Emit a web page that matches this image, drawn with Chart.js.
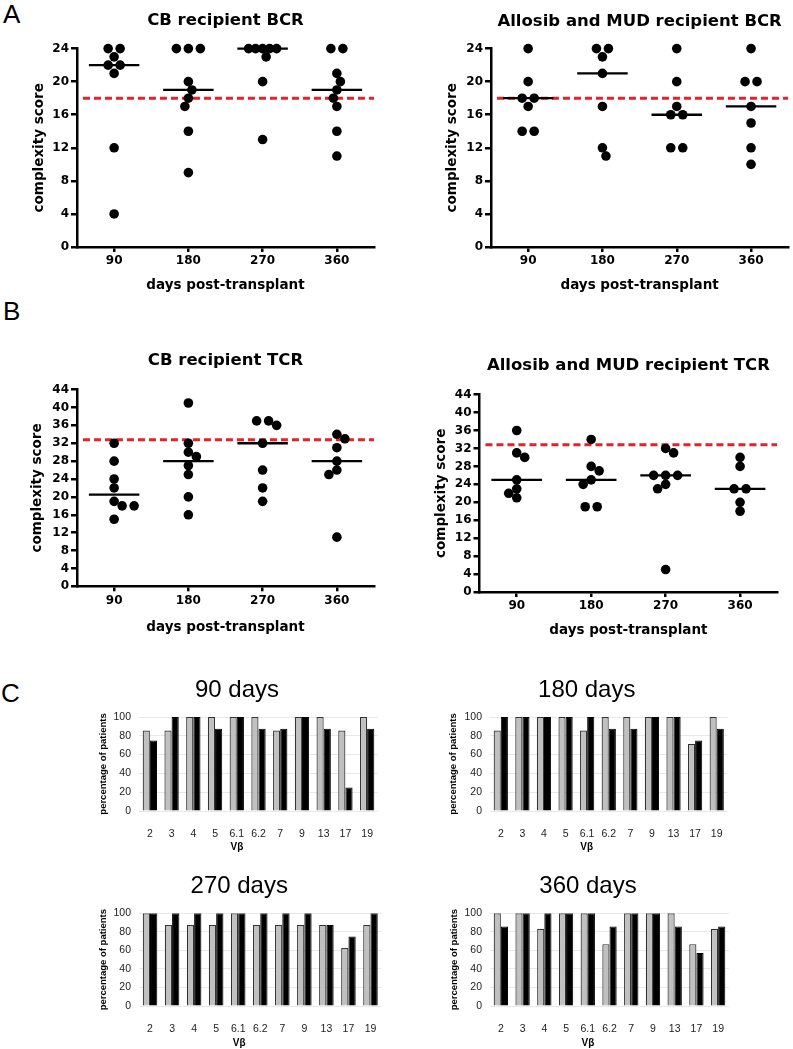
<!DOCTYPE html>
<html><head><meta charset="utf-8">
<script src="https://cdn.jsdelivr.net/npm/chart.js@4/dist/chart.umd.min.js"></script>
<style>
body{margin:0;width:793px;height:1049px;position:relative;background:#fff;overflow:hidden}
canvas{position:absolute}
.lbl{position:absolute;font-family:'Liberation Sans',Arial,sans-serif;font-size:26px;line-height:26px;color:#000}
</style></head><body>
<div class="lbl" style="left:3px;top:1px">A</div>
<div class="lbl" style="left:3px;top:298px">B</div>
<div class="lbl" style="left:1px;top:680px">C</div>
<canvas id="a1" width="400" height="300" style="left:0;top:0"></canvas>
<canvas id="a2" width="393" height="300" style="left:400px;top:0"></canvas>
<canvas id="b1" width="400" height="300" style="left:0;top:340px"></canvas>
<canvas id="b2" width="393" height="300" style="left:400px;top:345px"></canvas>
<canvas id="c1" width="308" height="193" style="left:96px;top:660px"></canvas>
<canvas id="c2" width="304" height="193" style="left:446px;top:660px"></canvas>
<canvas id="c3" width="312" height="193" style="left:97px;top:856px"></canvas>
<canvas id="c4" width="302" height="193" style="left:447px;top:856px"></canvas>
<script>
// ---------- data ----------
const days = ['90', '180', '270', '360'];
const cbBcr    = [[24,24,23,22,22,21,12,4],[24,24,24,20,19,18,17,14,9],[24,24,24,24,24,23,20,13],[24,24,21,20,19,18,17,14,11]];
const alloBcr  = [[24,20,18,18,17,14,14],[24,24,23,21,17,12,11],[24,20,17,16,16,12,12],[24,20,20,17,15,12,10]];
const cbTcr    = [[32,28,24,22,19,18,18,15],[41,32,30,29,27,25,20,16],[37,37,36,32,26,22,19],[34,33,31,28,26,25,11]];
const alloTcr  = [[36,31,30,25,23,22,21],[34,28,27,25,24,19,19],[32,31,26,26,26,24,23,5],[30,28,23,23,20,18]];
const bcrThreshold = 18;
const tcrThreshold = 32.8;
const bcrTicksMax = 24;
const tcrTicksMax = 44;

const vbeta = ['2','3','4','5','6.1','6.2','7','9','13','17','19'];
const gray90  = [85.7,85.7,100,100,100,100,85.7,100,100,85.7,100];
const black90 = [75,100,100,87.5,100,87.5,87.5,100,87.5,25,87.5];
const gray180  = [85.7,100,100,100,85.7,100,100,100,100,71.4,100];
const black180 = [100,100,100,100,100,87.5,87.5,100,100,75,87.5];
const gray270  = [100,87.5,87.5,87.5,100,87.5,87.5,87.5,87.5,62.5,87.5];
const black270 = [100,100,100,100,100,100,100,100,87.5,75,100];
const gray360  = [100,100,83.3,100,100,66.7,100,100,100,66.7,83.3];
const black360 = [85.7,100,100,100,100,85.7,100,100,85.7,57.1,85.7];

// ---------- helpers ----------
const BOLD = "'DejaVu Sans', sans-serif";
const ARIAL = "'Liberation Sans', Arial, sans-serif";
const DOT_R = 4.8;
const MED_HALF = 0.34;

function median(a){const s=[...a].sort((x,y)=>x-y);const n=s.length;return n%2?s[(n-1)/2]:(s[n/2-1]+s[n/2])/2;}

// beeswarm-style spreading of tied / nearby points (computed from the scale's pixels)
function swarm(chart, groups){
  const xs = chart.scales.x, ys = chart.scales.y;
  const unit = xs.getPixelForValue(1) - xs.getPixelForValue(0);
  const D = 8.8, h = 0.5;
  const out = [];
  groups.forEach((vals, i) => {
    const placed = [];
    let sign = 1;
    const uniq = [...new Set(vals)].sort((a,b)=>b-a);
    uniq.forEach(v => {
      const n = vals.filter(w=>w===v).length;
      const S = n >= 4 ? 7 : 12;
      const base = Array.from({length:n}, (_,k)=>(k-(n-1)/2)*S);
      const py = ys.getPixelForValue(v);
      for (let j = 0; j < 400; j++) {
        const sh = j === 0 ? 0 : (j%2 ? sign : -sign) * Math.ceil(j/2) * h;
        const ok = base.every(b => placed.every(p => Math.hypot(p.x-(b+sh), p.y-py) >= D));
        if (ok) {
          base.forEach(b => { placed.push({x:b+sh, y:py}); out.push({x:i+0.5+(b+sh)/unit, y:v}); });
          if (sh !== 0) sign = -Math.sign(sh);
          break;
        }
      }
    });
  });
  chart.data.datasets[0].data = out;
  chart.update('none');
}

function makeScatter(id, title, groups, thr, yMax, L){
  const pts = [];
  groups.forEach((vals,i)=>vals.forEach(v=>pts.push({x:i+0.5,y:v})));
  const datasets = [{
    type:'scatter', data:pts, backgroundColor:'#000', borderColor:'#000', borderWidth:0,
    pointRadius:DOT_R, pointHoverRadius:DOT_R, order:0, clip:false
  }];
  groups.forEach((vals,i)=>{
    const m = median(vals);
    datasets.push({type:'line', data:[{x:i+0.5-MED_HALF,y:m},{x:i+0.5+MED_HALF,y:m}],
      borderColor:'#000', borderWidth:2.3, pointRadius:0, showLine:true, fill:false, order:1, clip:false});
  });
  datasets.push({type:'line', data:[{x:0.08,y:thr},{x:4,y:thr}], borderColor:'#e3222b', borderWidth:3,
    borderDash:[7,4], pointRadius:0, showLine:true, fill:false, order:2});
  const chart = new Chart(document.getElementById(id), {
    type:'scatter',
    data:{datasets},
    options:{
      responsive:false, animation:false, devicePixelRatio:1,
      layout:{padding:{left:0,right:L.padR,top:0,bottom:0}},
      plugins:{legend:{display:false}, tooltip:{enabled:false},
        title:{display:true, text:title, fullSize:false, color:'#000',
          font:{family:BOLD, size:16.5, weight:'bold'}, padding:{top:L.tTop, bottom:L.tBot}}},
      scales:{
        x:{type:'linear', min:0, max:4,
          afterBuildTicks: ax => { ax.ticks = days.map((d,i)=>({value:i+0.5})); },
          ticks:{callback:(v,idx)=>days[idx], color:'#000', font:{family:BOLD,size:12,weight:'bold'}, padding:2, autoSkip:false, maxRotation:0},
          grid:{display:true, drawOnChartArea:false, drawTicks:true, tickLength:5, color:'#000', lineWidth:2.5},
          border:{display:true, color:'#000', width:2.5},
          title:{display:true, text:'days post-transplant', color:'#000', font:{family:BOLD,size:13.5,weight:'bold'}, padding:{top:0,bottom:L.xtBot}},
          afterFit: s => { s.height = L.xH; }
        },
        y:{min:0, max:yMax,
          ticks:{stepSize:4, color:'#000', font:{family:BOLD,size:12,weight:'bold'}, padding:2},
          grid:{display:true, drawOnChartArea:false, drawTicks:true, tickLength:6, color:'#000', lineWidth:2.5},
          border:{display:true, color:'#000', width:2.5},
          title:{display:true, text:'complexity score', color:'#000', font:{family:BOLD,size:13.5,weight:'bold'}, padding:{top:L.ytTop,bottom:0}},
          afterFit: s => { s.width = L.yW; }
        }
      }
    }
  });
  swarm(chart, groups);
  return chart;
}

function makeBars(id, title, gray, black, L){
  return new Chart(document.getElementById(id), {
    type:'bar',
    data:{labels:vbeta, datasets:[
      {data:gray, backgroundColor:'#c0c0c0', borderColor:'#333', borderWidth:1.2, borderSkipped:'bottom'},
      {data:black, backgroundColor:'#000', borderColor:'#000', borderWidth:1, borderSkipped:'bottom'}
    ]},
    options:{
      responsive:false, animation:false, devicePixelRatio:1,
      categoryPercentage:0.66, barPercentage:1,
      layout:{padding:{left:0,right:L.padR,top:0,bottom:0}},
      plugins:{legend:{display:false}, tooltip:{enabled:false},
        title:{display:true, text:title, color:'#000', font:{family:ARIAL,size:24,weight:'normal'}, padding:{top:L.tTop,bottom:L.tBot}},
        subtitle:{display:true, text:'Vβ', position:'bottom', color:'#000', font:{family:ARIAL,size:10,weight:'bold'}, padding:{top:0,bottom:0}}
      },
      scales:{
        x:{grid:{display:false}, border:{display:false},
          ticks:{color:'#222', font:{family:ARIAL,size:10.5}, padding:9, autoSkip:false, maxRotation:0},
          afterFit: s => { s.height = L.xH; }},
        y:{min:0, max:100,
          ticks:{stepSize:20, color:'#222', font:{family:ARIAL,size:10.5}, padding:8},
          grid:{color:'#e8e8e8', lineWidth:1, drawTicks:false},
          border:{display:false},
          title:{display:true, text:'percentage of patients', color:'#000', font:{family:ARIAL,size:9.5,weight:'bold'}, padding:{top:L.ytTop,bottom:0}},
          afterFit: s => { s.width = L.yW; }}
      }
    }
  });
}

makeScatter('a1','CB recipient BCR', cbBcr, bcrThreshold, bcrTicksMax,
  {padR:26, tTop:10.4, tBot:18.4, xH:53, xtBot:6.9, yW:77, ytTop:30.9});
makeScatter('a2','Allosib and MUD recipient BCR', alloBcr, bcrThreshold, bcrTicksMax,
  {padR:4, tTop:11.4, tBot:17.4, xH:53, xtBot:6.9, yW:91, ytTop:43.9});
makeScatter('b1','CB recipient TCR', cbTcr, tcrThreshold, tcrTicksMax,
  {padR:26, tTop:10.4, tBot:19.4, xH:53.7, xtBot:4.9, yW:77, ytTop:29});
makeScatter('b2','Allosib and MUD recipient TCR', alloTcr, tcrThreshold, tcrTicksMax,
  {padR:15.7, tTop:10.4, tBot:19.4, xH:53, xtBot:6.9, yW:79.5, ytTop:32.9});

makeBars('c1','90 days', gray90, black90, {padR:26, tTop:15.6, tBot:12.6, xH:30, yW:43, ytTop:1.8});
makeBars('c2','180 days', gray180, black180, {padR:22.5, tTop:15.6, tBot:12.6, xH:30, yW:44, ytTop:1.3});
makeBars('c3','270 days', gray270, black270, {padR:27.5, tTop:15.6, tBot:12.9, xH:31, yW:42, ytTop:0.8});
makeBars('c4','360 days', gray360, black360, {padR:20, tTop:15.6, tBot:12.9, xH:31, yW:43, ytTop:1.3});
</script>
</body></html>
